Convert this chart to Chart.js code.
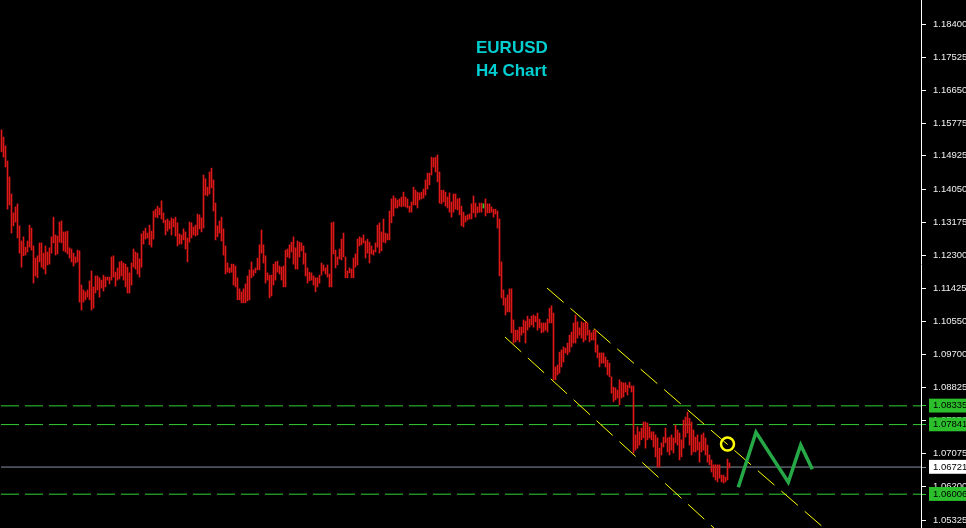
<!DOCTYPE html>
<html>
<head>
<meta charset="utf-8">
<title>EURUSD H4 Chart</title>
<script src="https://cdn.jsdelivr.net/npm/chart.js@4.4.1/dist/chart.umd.min.js"></script>
<style>
  html, body { margin: 0; padding: 0; background: #000; overflow: hidden; }
  #wrap { position: relative; width: 966px; height: 528px; }
  #chart { display: block; }
  #title {
    position: absolute; left: 476px; top: 36px;
    color: #00ced1; font: bold 17px "Liberation Sans", Arial, sans-serif;
    line-height: 23px; pointer-events: none;
  }
</style>
</head>
<body>
<div id="wrap">
  <canvas id="chart" width="966" height="528"></canvas>
  <div id="title">EURUSD<br>H4 Chart</div>
</div>
<script>
// price axis labels
const priceTicks = [1.18400, 1.17525, 1.16650, 1.15775, 1.14925, 1.14050, 1.13175, 1.12300,
  1.11425, 1.10550, 1.09700, 1.08825, 1.07950, 1.07075, 1.06200, 1.05325];

// horizontal levels
const greenLevels = [1.08335, 1.07841, 1.06006];
const bidLevel = 1.06721;

// bars drawn in the "up" colour
const upBars = [241];

// H4 bar highs / lows, one per bar, oldest first
const highs = [
  1.1561, 1.1542, 1.1519, 1.1479, 1.1437, 1.1392, 1.1342, 1.1358, 1.1366, 1.1308,
  1.1268, 1.1279, 1.1252, 1.1268, 1.1310, 1.1302, 1.1255, 1.1223, 1.1229, 1.1263,
  1.1263, 1.1236, 1.1255, 1.1239, 1.1250, 1.1279, 1.1331, 1.1284, 1.1281, 1.1318,
  1.1321, 1.1292, 1.1292, 1.1294, 1.1250, 1.1247, 1.1236, 1.1226, 1.1244, 1.1242,
  1.1152, 1.1139, 1.1134, 1.1139, 1.1163, 1.1189, 1.1147, 1.1176, 1.1176, 1.1171,
  1.1165, 1.1178, 1.1173, 1.1173, 1.1173, 1.1226, 1.1229, 1.1186, 1.1197, 1.1213,
  1.1215, 1.1210, 1.1207, 1.1199, 1.1184, 1.1210, 1.1247, 1.1239, 1.1236, 1.1221,
  1.1287, 1.1294, 1.1302, 1.1289, 1.1310, 1.1294, 1.1347, 1.1352, 1.1360, 1.1355,
  1.1374, 1.1342, 1.1323, 1.1326, 1.1321, 1.1329, 1.1326, 1.1331, 1.1316, 1.1287,
  1.1284, 1.1300, 1.1292, 1.1276, 1.1318, 1.1316, 1.1305, 1.1310, 1.1339, 1.1337,
  1.1329, 1.1442, 1.1432, 1.1410, 1.1450, 1.1460, 1.1429, 1.1368, 1.1308, 1.1321,
  1.1331, 1.1300, 1.1255, 1.1210, 1.1197, 1.1207, 1.1207, 1.1202, 1.1171, 1.1142,
  1.1134, 1.1142, 1.1155, 1.1176, 1.1192, 1.1213, 1.1192, 1.1197, 1.1223, 1.1258,
  1.1297, 1.1258, 1.1229, 1.1184, 1.1178, 1.1178, 1.1207, 1.1213, 1.1215, 1.1202,
  1.1199, 1.1202, 1.1244, 1.1247, 1.1258, 1.1265, 1.1279, 1.1250, 1.1268, 1.1265,
  1.1263, 1.1255, 1.1236, 1.1197, 1.1186, 1.1184, 1.1176, 1.1171, 1.1171, 1.1178,
  1.1210, 1.1205, 1.1197, 1.1205, 1.1181, 1.1316, 1.1318, 1.1244, 1.1226, 1.1247,
  1.1273, 1.1289, 1.1226, 1.1189, 1.1197, 1.1194, 1.1223, 1.1234, 1.1273, 1.1279,
  1.1276, 1.1284, 1.1268, 1.1273, 1.1265, 1.1255, 1.1244, 1.1263, 1.1310, 1.1316,
  1.1292, 1.1326, 1.1289, 1.1287, 1.1347, 1.1379, 1.1387, 1.1381, 1.1376, 1.1379,
  1.1384, 1.1397, 1.1384, 1.1379, 1.1360, 1.1371, 1.1410, 1.1402, 1.1397, 1.1395,
  1.1397, 1.1405, 1.1429, 1.1447, 1.1447, 1.1489, 1.1487, 1.1489, 1.1495, 1.1450,
  1.1402, 1.1402, 1.1397, 1.1384, 1.1395, 1.1371, 1.1392, 1.1392, 1.1379, 1.1381,
  1.1360, 1.1344, 1.1334, 1.1337, 1.1339, 1.1366, 1.1387, 1.1368, 1.1358, 1.1368,
  1.1368, 1.1366, 1.1379, 1.1366, 1.1366, 1.1358, 1.1352, 1.1352, 1.1347, 1.1326,
  1.1213, 1.1139, 1.1118, 1.1126, 1.1142, 1.1142, 1.1060, 1.1033, 1.1033, 1.1041,
  1.1041, 1.1060, 1.1057, 1.1070, 1.1062, 1.1070, 1.1073, 1.1070, 1.1078, 1.1062,
  1.1052, 1.1052, 1.1052, 1.1062, 1.1091, 1.1097, 1.1078, 1.0936, 1.0941, 1.0975,
  1.0981, 1.0989, 1.0986, 1.0999, 1.1020, 1.1028, 1.1052, 1.1073, 1.1055, 1.1039,
  1.1055, 1.1052, 1.1055, 1.1052, 1.1033, 1.1026, 1.1033, 1.1033, 1.0994, 1.0973,
  1.0973, 1.0973, 1.0962, 1.0954, 1.0946, 1.0910, 1.0883, 1.0881, 1.0875, 1.0902,
  1.0896, 1.0894, 1.0894, 1.0888, 1.0896, 1.0886, 1.0886, 1.0757, 1.0778, 1.0765,
  1.0775, 1.0791, 1.0791, 1.0788, 1.0778, 1.0765, 1.0765, 1.0757, 1.0749, 1.0722,
  1.0736, 1.0751, 1.0775, 1.0749, 1.0751, 1.0757, 1.0749, 1.0783, 1.0770, 1.0762,
  1.0744, 1.0796, 1.0804, 1.0817, 1.0801, 1.0791, 1.0770, 1.0751, 1.0757, 1.0738,
  1.0757, 1.0762, 1.0749, 1.0730, 1.0704, 1.0691, 1.0678, 1.0678, 1.0678, 1.0678,
  1.0651, 1.0651, 1.0646, 1.0693, 1.0683
];
const lows = [
  1.1503, 1.1489, 1.1463, 1.1352, 1.1363, 1.1289, 1.1308, 1.1318, 1.1276, 1.1236,
  1.1199, 1.1229, 1.1231, 1.1239, 1.1252, 1.1244, 1.1157, 1.1176, 1.1171, 1.1213,
  1.1199, 1.1194, 1.1181, 1.1205, 1.1207, 1.1236, 1.1263, 1.1231, 1.1234, 1.1265,
  1.1263, 1.1242, 1.1239, 1.1234, 1.1223, 1.1213, 1.1202, 1.1210, 1.1213, 1.1107,
  1.1086, 1.1107, 1.1113, 1.1120, 1.1113, 1.1086, 1.1091, 1.1131, 1.1139, 1.1120,
  1.1144, 1.1136, 1.1147, 1.1165, 1.1155, 1.1165, 1.1173, 1.1149, 1.1165, 1.1168,
  1.1176, 1.1165, 1.1147, 1.1131, 1.1131, 1.1152, 1.1199, 1.1194, 1.1181, 1.1173,
  1.1199, 1.1260, 1.1273, 1.1276, 1.1258, 1.1252, 1.1273, 1.1331, 1.1329, 1.1337,
  1.1326, 1.1316, 1.1284, 1.1294, 1.1300, 1.1284, 1.1305, 1.1281, 1.1255, 1.1260,
  1.1260, 1.1271, 1.1247, 1.1213, 1.1265, 1.1276, 1.1284, 1.1281, 1.1284, 1.1300,
  1.1292, 1.1302, 1.1389, 1.1387, 1.1392, 1.1408, 1.1347, 1.1271, 1.1279, 1.1289,
  1.1268, 1.1231, 1.1181, 1.1186, 1.1184, 1.1186, 1.1152, 1.1147, 1.1113, 1.1113,
  1.1105, 1.1105, 1.1105, 1.1110, 1.1113, 1.1171, 1.1176, 1.1184, 1.1192, 1.1192,
  1.1236, 1.1210, 1.1157, 1.1165, 1.1118, 1.1123, 1.1152, 1.1165, 1.1186, 1.1181,
  1.1165, 1.1147, 1.1147, 1.1226, 1.1223, 1.1239, 1.1207, 1.1194, 1.1194, 1.1226,
  1.1242, 1.1207, 1.1176, 1.1157, 1.1163, 1.1165, 1.1152, 1.1134, 1.1147, 1.1157,
  1.1178, 1.1189, 1.1181, 1.1173, 1.1147, 1.1147, 1.1234, 1.1197, 1.1205, 1.1221,
  1.1218, 1.1226, 1.1171, 1.1171, 1.1184, 1.1171, 1.1171, 1.1199, 1.1205, 1.1255,
  1.1258, 1.1263, 1.1223, 1.1236, 1.1210, 1.1234, 1.1231, 1.1239, 1.1252, 1.1236,
  1.1242, 1.1265, 1.1263, 1.1271, 1.1271, 1.1316, 1.1334, 1.1355, 1.1355, 1.1360,
  1.1358, 1.1360, 1.1358, 1.1355, 1.1344, 1.1344, 1.1363, 1.1363, 1.1355, 1.1376,
  1.1379, 1.1381, 1.1389, 1.1405, 1.1416, 1.1442, 1.1463, 1.1450, 1.1424, 1.1368,
  1.1366, 1.1371, 1.1360, 1.1355, 1.1344, 1.1331, 1.1344, 1.1352, 1.1350, 1.1337,
  1.1308, 1.1305, 1.1318, 1.1323, 1.1326, 1.1326, 1.1342, 1.1331, 1.1342, 1.1344,
  1.1344, 1.1355, 1.1334, 1.1342, 1.1342, 1.1344, 1.1331, 1.1339, 1.1302, 1.1176,
  1.1118, 1.1099, 1.1073, 1.1081, 1.1081, 1.1026, 1.0999, 1.1002, 1.1007, 1.1002,
  1.1020, 1.1026, 1.0999, 1.1033, 1.1041, 1.1047, 1.1041, 1.1055, 1.1033, 1.1039,
  1.1026, 1.1028, 1.1033, 1.1028, 1.1052, 1.1052, 1.0902, 1.0902, 1.0915, 1.0920,
  1.0936, 1.0949, 1.0973, 1.0968, 1.0975, 1.0989, 1.0999, 1.0999, 1.1012, 1.1020,
  1.1012, 1.1002, 1.1007, 1.1020, 1.1002, 1.1007, 1.1007, 1.0975, 1.0960, 1.0936,
  1.0946, 1.0946, 1.0936, 1.0915, 1.0910, 1.0867, 1.0844, 1.0849, 1.0854, 1.0836,
  1.0854, 1.0857, 1.0870, 1.0862, 1.0881, 1.0870, 1.0709, 1.0717, 1.0722, 1.0730,
  1.0744, 1.0749, 1.0722, 1.0744, 1.0749, 1.0744, 1.0725, 1.0699, 1.0672, 1.0672,
  1.0704, 1.0725, 1.0736, 1.0712, 1.0704, 1.0717, 1.0709, 1.0736, 1.0730, 1.0691,
  1.0699, 1.0722, 1.0751, 1.0762, 1.0730, 1.0704, 1.0712, 1.0712, 1.0717, 1.0685,
  1.0712, 1.0717, 1.0704, 1.0685, 1.0678, 1.0659, 1.0646, 1.0638, 1.0633, 1.0643,
  1.0633, 1.0630, 1.0633, 1.0638, 1.0670
];

// trend channel (bar index, price)
const channelUpper = [{x: 272.75, y: 1.11441}, {x: 411.25, y: 1.05114}];
const channelLower = [{x: 251.75, y: 1.10149}, {x: 356.25, y: 1.05114}];
// circled touch point
const touchPoint = [{x: 363.0, y: 1.07329}];
// projected zigzag path
const projection = [
  {x: 368.4, y: 1.06187}, {x: 377.25, y: 1.07637}, {x: 393.4, y: 1.06319},
  {x: 399.6, y: 1.07302}, {x: 405.4, y: 1.06662}
];

const X_MIN = -0.75, X_MAX = 459.75;
const Y_MIN = 1.05115, Y_MAX = 1.19033;

const RED = '#dc1818';
const LIME = '#32cd32';
const BOX_GREEN = '#2cbf2c';
const BID_GREY = '#8792a2';

function isGreen(v) { return greenLevels.includes(v); }
function isBid(v) { return v === bidLevel; }

function levelLine(value, color, dash) {
  return {
    type: 'line',
    data: [{x: -0.25, y: value}, {x: X_MAX, y: value}],
    borderColor: color,
    borderWidth: 1,
    borderDash: dash,
    pointRadius: 0,
    order: 4
  };
}

const datasets = [
  {
    type: 'bar',
    data: highs.map((h, i) => ({x: i, y: [lows[i], h]})),
    backgroundColor: ctx => upBars.includes(ctx.dataIndex) ? LIME : RED,
    barThickness: 1,
    borderWidth: 0,
    borderSkipped: false,
    order: 0
  },
  ...greenLevels.map(v => levelLine(v, LIME, [18, 6])),
  levelLine(bidLevel, BID_GREY, []),
  {
    type: 'line', data: channelUpper, borderColor: '#ffff00', borderWidth: 1,
    borderDash: [22, 9], pointRadius: 0, order: 3
  },
  {
    type: 'line', data: channelLower, borderColor: '#ffff00', borderWidth: 1,
    borderDash: [22, 9], pointRadius: 0, order: 3
  },
  {
    type: 'line', data: touchPoint, showLine: false, pointRadius: 6.5,
    pointBorderWidth: 2.5, pointBorderColor: '#ffff00',
    pointBackgroundColor: 'rgba(0,0,0,0)', order: 1
  },
  {
    type: 'line', data: projection, borderColor: '#26a847', borderWidth: 3.5,
    pointRadius: 0, tension: 0, borderJoinStyle: 'miter', order: 1
  }
];

new Chart(document.getElementById('chart'), {
  type: 'bar',
  data: { datasets },
  options: {
    responsive: false,
    animation: false,
    events: [],
    layout: { padding: 0, autoPadding: false },
    plugins: { legend: { display: false }, tooltip: { enabled: false } },
    scales: {
      x: {
        type: 'linear', min: X_MIN, max: X_MAX, offset: false, display: false
      },
      y: {
        type: 'linear', position: 'right', min: Y_MIN, max: Y_MAX, beginAtZero: false,
        afterBuildTicks: scale => {
          scale.ticks = priceTicks.concat(greenLevels, [bidLevel]).map(v => ({value: v}));
        },
        afterFit: scale => {
          scale.width = 45;
          scale.paddingTop = 0;
          scale.paddingBottom = 0;
        },
        border: { display: true, color: '#ffffff', width: 1 },
        grid: {
          drawOnChartArea: false, drawTicks: true, tickLength: 5,
          tickColor: ctx => isGreen(ctx.tick.value) ? LIME : (isBid(ctx.tick.value) ? BID_GREY : '#ffffff')
        },
        ticks: {
          autoSkip: false,
          padding: 7,
          font: { family: 'Liberation Sans', size: 9.5 },
          color: ctx => (isGreen(ctx.tick.value) || isBid(ctx.tick.value)) ? '#000000' : '#f0f0f0',
          callback: v => v.toFixed(5),
          showLabelBackdrop: ctx => isGreen(ctx.tick.value) || isBid(ctx.tick.value),
          backdropColor: ctx => isBid(ctx.tick.value) ? '#ffffff' : BOX_GREEN,
          backdropPadding: { top: 1.5, bottom: 1, left: 4, right: 8 }
        }
      }
    }
  }
});
</script>
</body>
</html>
